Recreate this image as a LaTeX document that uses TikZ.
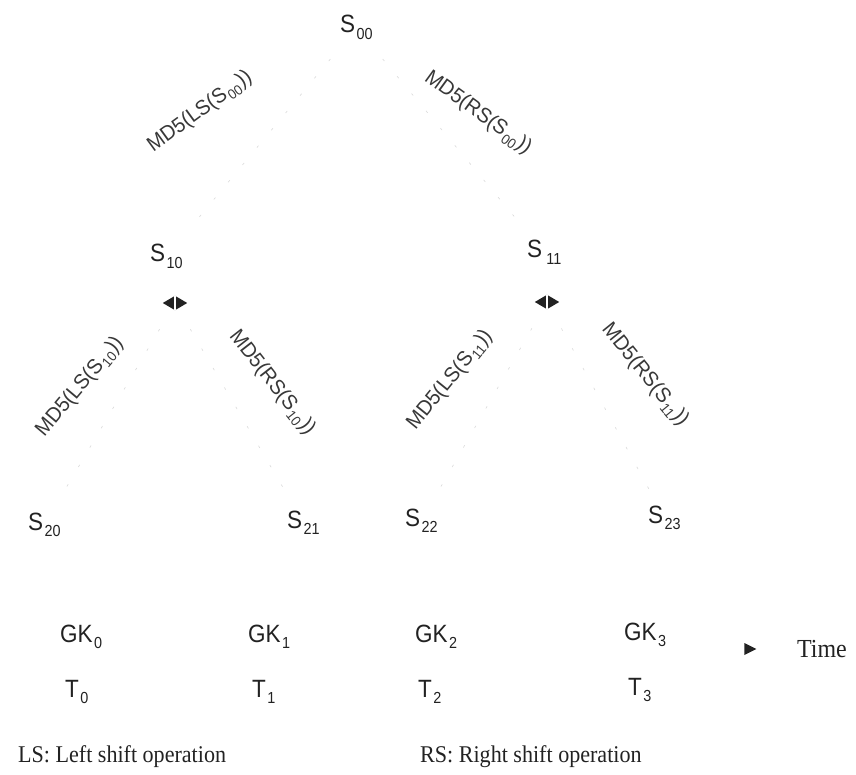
\documentclass[tikz,border=0pt]{standalone}
\usepackage{fontspec}
\usetikzlibrary{shapes.geometric}
\setmainfont{Liberation Serif}
\newfontfamily\keyfont[FakeStretch=0.9]{Liberation Sans}
\newfontfamily\hashfont[FakeStretch=0.95]{Liberation Sans}
\newfontfamily\capfont[FakeStretch=0.92]{Liberation Serif}
% letter with a lowered index, as in S_00
\newcommand\idx[2]{#1\kern1.5pt\raisebox{-6.5pt}{\fontsize{16}{16}\selectfont #2}}
\newcommand\hidx[1]{\kern1pt\raisebox{-4.5pt}{\fontsize{14}{14}\selectfont #1}\kern1pt}
\definecolor{ink}{HTML}{222222}
\begin{document}
\begin{tikzpicture}[x=1pt,y=-1pt,
  state/.style={font=\keyfont\fontsize{25}{25}\selectfont, text=ink, inner sep=0pt, anchor=base west},
  hash/.style={font=\hashfont\fontsize{21}{21}\selectfont, text=ink!90, inner sep=0pt},
  caption/.style={font=\capfont\fontsize{24}{24}\selectfont, text=ink, inner sep=0pt, anchor=base west},
  faint/.style={draw=gray!30, line width=0.6pt, dash pattern=on 2.5pt off 20pt},
  joint/.style={minimum width=24pt, minimum height=14pt, inner sep=0pt},
  tip/.style={isosceles triangle, isosceles triangle stretches, fill=ink, minimum height=12pt, minimum width=12pt, inner sep=0pt}]
\useasboundingbox (0,0) rectangle (856,775);

% tree of seeds
\node[state] (s00) at (340,33) {\idx{S}{00}};
\node[state] (s10) at (150,262) {\idx{S}{10}};
\node[state] (s11) at (527,258) {\idx{S}{\,11}};
\node[state] (s20) at (28,530) {\idx{S}{20}};
\node[state] (s21) at (287,528) {\idx{S}{21}};
\node[state] (s22) at (405,526) {\idx{S}{22}};
\node[state] (s23) at (648,523) {\idx{S}{23}};

% branching joints under the level-1 seeds
\node[joint] (k10) at (175,303) {};
\node[joint] (k11) at (547,302) {};
\foreach \k in {k10,k11}{
  \fill[ink] (\k.west) -- (\k.north) -- (\k.east) -- (\k.south) -- cycle;
  \draw[white, line width=1.3pt] (\k.north) -- (\k.south);
}

% faint edges
\draw[faint, shorten <=25pt, shorten >=20pt] (s00) -- (s10);
\draw[faint, shorten <=25pt, shorten >=20pt] (s00) -- (s11);
\draw[faint, shorten <=22pt, shorten >=14pt] (k10) -- (s20);
\draw[faint, shorten <=22pt, shorten >=14pt] (k10) -- (s21);
\draw[faint, shorten <=22pt, shorten >=14pt] (k11) -- (s22);
\draw[faint, shorten <=22pt, shorten >=14pt] (k11) -- (s23);

% hash labels along the edges
\node[hash, rotate=36] (h00l) at (200,112) {MD5(LS(S\hidx{00}))};
\node[hash, rotate=-36] (h00r) at (478,113) {MD5(RS(S\hidx{00}))};
\node[hash, rotate=50] (h10l) at (80,387) {MD5(LS(S\hidx{10}))};
\node[hash, rotate=-52] (h10r) at (272,383) {MD5(RS(S\hidx{10}))};
\node[hash, rotate=51] (h11l) at (450,380) {MD5(LS(S\hidx{11}))};
\node[hash, rotate=-51] (h11r) at (645,375) {MD5(RS(S\hidx{11}))};

% group keys and time slots
\node[state] (gk0) at (60,642) {\idx{GK}{0}};
\node[state] (gk1) at (248,642) {\idx{GK}{1}};
\node[state] (gk2) at (415,642) {\idx{GK}{2}};
\node[state] (gk3) at (624,640) {\idx{GK}{3}};
\node[state] (t0) at (65,697) {\idx{T}{0}};
\node[state] (t1) at (252,697) {\idx{T}{1}};
\node[state] (t2) at (418,697) {\idx{T}{2}};
\node[state] (t3) at (628,695) {\idx{T}{3}};

\node[tip] (arr) at (748,649) {};
\node[caption, font=\capfont\fontsize{26}{26}\selectfont] (time) at (797,657) {Time};

% legend
\node[caption] (ls) at (18,762) {LS: Left shift operation};
\node[caption] (rs) at (420,762) {RS: Right shift operation};
\end{tikzpicture}
\end{document}
